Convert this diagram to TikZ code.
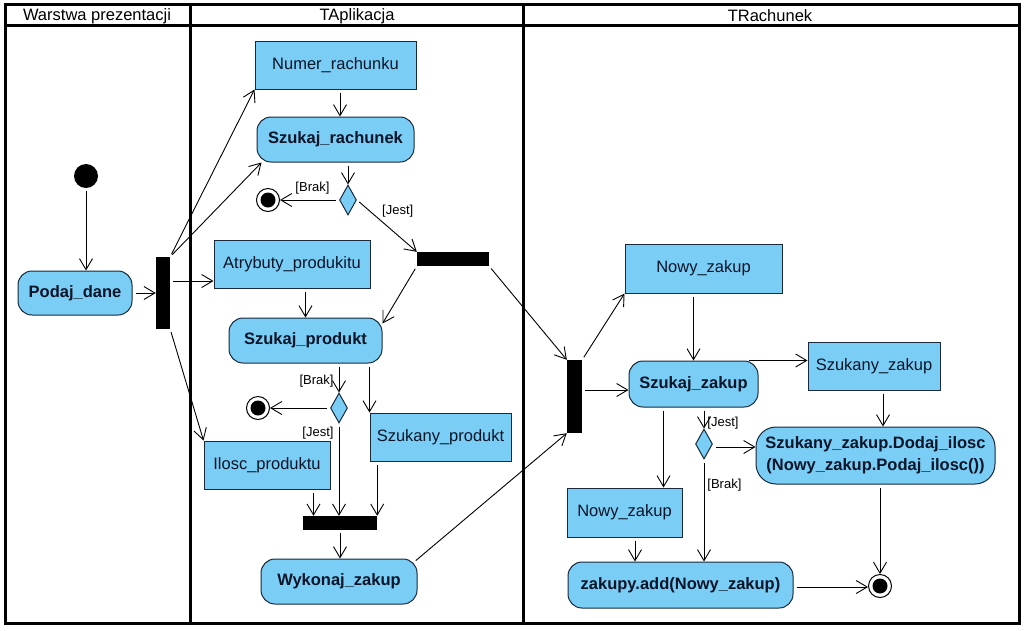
\documentclass[tikz,border=0pt]{standalone}
\usepackage{fontspec}
\setmainfont{Liberation Sans}
\usetikzlibrary{arrows.meta,shapes.geometric,calc}
\definecolor{actfill}{RGB}{122,206,245}
\definecolor{actdraw}{RGB}{25,40,60}
\definecolor{txt}{RGB}{10,20,40}
\begin{document}
\begin{tikzpicture}[x=1pt,y=-1pt,
  base/.style={draw=actdraw, fill=actfill, line width=1pt, inner sep=0pt, text=txt,
    font=\fontsize{16.5}{22}\selectfont, align=center},
  objbox/.style={base, rectangle},
  actbox/.style={base, rectangle, rounded corners=14pt, font=\fontsize{16.5}{22}\selectfont\bfseries},
  bar/.style={rectangle, fill=black, draw=none, inner sep=0pt},
  decision/.style={diamond, draw=actdraw, fill=actfill, line width=1pt, inner sep=0pt,
    minimum width=17pt, minimum height=30pt},
  startnode/.style={circle, fill=black, inner sep=0pt, minimum size=24pt},
  finalnode/.style={circle, draw=black, fill=white, line width=1pt, inner sep=0pt, minimum size=23pt,
    path picture={\fill[black] (path picture bounding box.center) circle (7.5pt);}},
  lane/.style={draw=black, line width=3pt},
  lanetitle/.style={font=\fontsize{16.5}{20}\selectfont, text=black},
  guard/.style={font=\fontsize{13}{15}\selectfont, text=black, inner sep=2pt},
  arr/.style={draw=black, line width=0.9pt, shorten <=3pt,
    -{Straight Barb[length=11pt,width=13pt,line width=0.9pt]}}
]
\useasboundingbox (0,0) rectangle (1024,630);
\fill[white] (0,0) rectangle (1024,630);

% swimlanes
\draw[lane] (5,4) rectangle (1019,623);
\draw[lane] (5,25) -- (1019,25);
\draw[lane] (190,4) -- (190,623);
\draw[lane] (523,4) -- (523,623);
\node[lanetitle] (lt1) at (97,16) {Warstwa prezentacji};
\node[lanetitle] (lt2) at (357,16) {TAplikacja};
\node[lanetitle] (lt3) at (770,16) {TRachunek};

% lane 1
\node[startnode] (start) at (86,176) {};
\node[actbox, minimum width=114pt, minimum height=44pt] (podaj) at (75,293) {Podaj\_dane};
\node[bar, minimum width=14pt, minimum height=72pt] (fork1) at (163,293) {};

% lane 2
\node[objbox, minimum width=161pt, minimum height=48pt] (numer) at (335.5,65) {Numer\_rachunku};
\node[actbox, minimum width=157pt, minimum height=45pt] (szrach) at (335.5,139.5) {Szukaj\_rachunek};
\node[decision] (d1) at (348,200) {};
\node[finalnode] (f1) at (268,200) {};
\node[bar, minimum width=72pt, minimum height=14pt] (join2) at (453,259) {};
\node[objbox, minimum width=156pt, minimum height=48pt] (atryb) at (292,264) {Atrybuty\_produkitu};
\node[actbox, minimum width=153pt, minimum height=45pt] (szprod) at (305.5,340.5) {Szukaj\_produkt};
\node[decision] (d2) at (339,408) {};
\node[finalnode] (f2) at (258,408) {};
\node[objbox, minimum width=141pt, minimum height=48pt] (szprodukt) at (440.5,437) {Szukany\_produkt};
\node[objbox, minimum width=126pt, minimum height=48pt] (ilosc) at (267,465) {Ilosc\_produktu};
\node[bar, minimum width=74pt, minimum height=14pt] (join3) at (340,523) {};
\node[actbox, minimum width=156pt, minimum height=45pt] (wykonaj) at (339,581.5) {Wykonaj\_zakup};

% lane 3
\node[objbox, minimum width=157pt, minimum height=49pt] (nowy1) at (703.5,268.5) {Nowy\_zakup};
\node[bar, minimum width=15pt, minimum height=73pt] (fork4) at (574.5,396.5) {};
\node[actbox, minimum width=129pt, minimum height=46pt] (szzakup) at (693.5,384) {Szukaj\_zakup};
\node[objbox, minimum width=132pt, minimum height=48pt] (szzak) at (874,366) {Szukany\_zakup};
\node[decision] (d3) at (704,444) {};
\node[actbox, rounded corners=20pt, minimum width=239pt, minimum height=57pt] (dodaj) at (875.5,455.5)
  {Szukany\_zakup.Dodaj\_ilosc\\(Nowy\_zakup.Podaj\_ilosc())};
\node[objbox, minimum width=115pt, minimum height=49pt] (nowy2) at (624.5,512.5) {Nowy\_zakup};
\node[actbox, minimum width=225pt, minimum height=46pt] (add) at (680.5,585) {zakupy.add(Nowy\_zakup)};
\node[finalnode] (f3) at (880,586) {};

% connectors lane 1/2
\draw[arr] (start) -- (start |- podaj.north);
\draw[arr] (podaj.east) -- (fork1.west);
\draw[arr] (fork1.north east) -- (numer.south west);
\draw[arr] (fork1.north east) -- ([xshift=5pt]szrach.south west);
\coordinate (atrin) at ([yshift=-17pt]atryb.west);
\draw[arr] (fork1.east |- atrin) -- (atrin);
\draw[arr] (fork1.south east) -- (ilosc.north west);
\draw[arr] ([xshift=4.5pt]numer.south) -- ([xshift=4.5pt]szrach.north);
\draw[arr] (d1 |- szrach.south) -- (d1.north);
\draw[arr] (d1.west) -- node[guard, pos=0.45, above=3pt] {[Brak]} (f1.east);
\draw[arr] (d1.east) -- node[guard, pos=0.38, above right] {[Jest]} (join2.north west);
\draw[arr] (join2.south west) -- ([yshift=-6pt]szprod.north east);
\draw[arr] (join2.south east) -- (fork4.north west);
\draw[arr] (szprod.north |- atryb.south) -- (szprod.north);
\draw[arr] (d2 |- szprod.south) -- node[guard, pos=0.62, left=3pt] {[Brak]} (d2.north);
\draw[arr] (d2.west) -- (f2.east);
\draw[arr] (szprodukt.north west |- szprod.south) -- (szprodukt.north west);
\draw[arr] (d2.south) -- node[guard, pos=0.1, left=3pt] {[Jest]} (d2 |- join3.north);
\coordinate (ilout) at ([xshift=-17pt]ilosc.south east);
\draw[arr] (ilout) -- (ilout |- join3.north);
\draw[arr] (join3.north east |- szprodukt.south) -- (join3.north east);
\draw[arr] (join3.south) -- (join3.south |- wykonaj.north);
\draw[arr] ([xshift=-4pt,yshift=-4pt]wykonaj.north east) -- (fork4.south west);

% connectors lane 3
\draw[arr] (fork4.north east) -- (nowy1.south west);
\coordinate (szzin) at ([yshift=-6pt]szzakup.west);
\draw[arr] (fork4.east |- szzin) -- (szzin);
\draw[arr] (szzakup.north |- nowy1.south) -- (szzakup.north);
\coordinate (szzout) at ([xshift=-13pt]szzakup.north east);
\draw[arr] (szzout) -- (szzout -| szzak.west);
\draw[arr] (d3 |- szzakup.south) -- node[guard, pos=0.75, right=1pt] {[Jest]} (d3.north);
\draw[arr] ([yshift=-3pt]d3.east) -- ([yshift=-3pt]d3.east -| dodaj.west);
\draw[arr] (d3.south) -- node[guard, pos=0.25, right=1pt] {[Brak]} (d3 |- add.north);
\coordinate (nw2in) at ([xshift=-19pt]nowy2.north east);
\draw[arr] (nw2in |- szzakup.south) -- (nw2in);
\coordinate (nw2out) at ([xshift=10.5pt]nowy2.south);
\draw[arr] (nw2out) -- (nw2out |- add.north);
\coordinate (szzkout) at ([xshift=9pt]szzak.south);
\draw[arr] (szzkout) -- (szzkout |- dodaj.north);
\draw[arr] (f3 |- dodaj.south) -- (f3.north);
\draw[arr] ([yshift=-2pt]add.east) -- ([yshift=-2pt]add.east -| f3.west);
\end{tikzpicture}
\end{document}
